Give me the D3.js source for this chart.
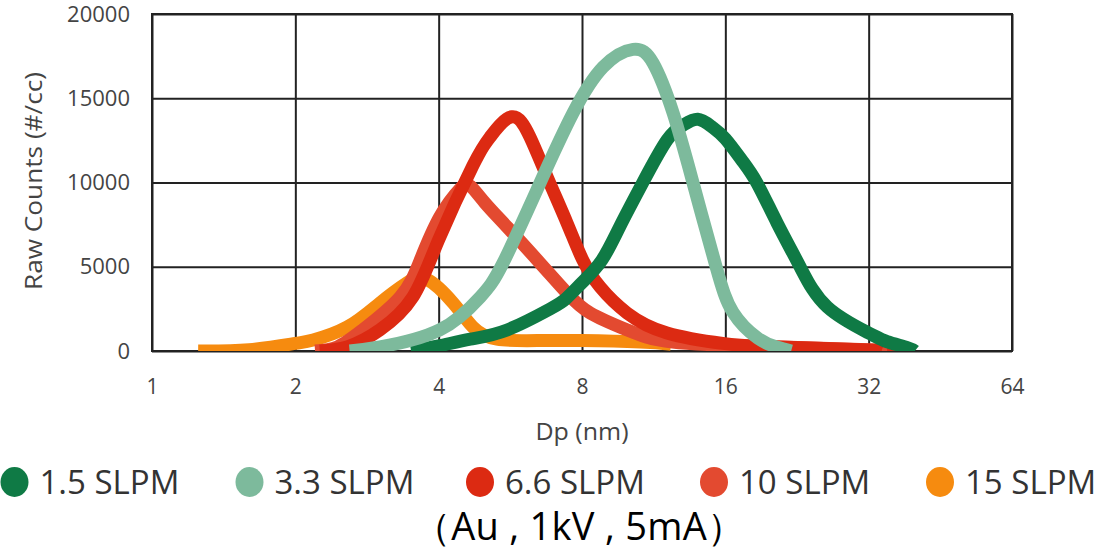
<!DOCTYPE html>
<html lang="en">
<head>
	<meta charset="UTF-8"/>
	<title>Raw Counts vs Dp</title>
	<script src="https://d3js.org/d3.v7.min.js"></script>
	<style>
		body { margin: 0; background: #fff; }
		text { font-family: "Open Sans", sans-serif; }
	</style>
</head>
<body>
	<script>
		var w = 1104;
		var h = 550;

		// series names + colours (legend order)
		var seriesNames = ["1.5 SLPM", "3.3 SLPM", "6.6 SLPM", "10 SLPM", "15 SLPM"];
		var seriesColors = ["#0f7a45", "#7dba9c", "#dc2a12", "#e34a30", "#f68b0f"];

		// Dp (nm) and raw counts
		var dp_1_5 = [3.5, 4.0, 4.66, 5.57, 6.86, 7.4, 8.03, 8.81, 9.61, 10.75, 12.07, 13.04, 14.0, 15.0, 16, 17.35, 18.66, 20.55, 22.98, 26.2, 32, 35, 38.6, 40];
		var cnt_1_5 = [0, 300, 700, 1250, 2500, 3100, 4100, 5400, 7400, 10030, 12520, 13400, 13750, 13300, 12600, 11300, 9950, 7600, 4985, 2610, 1070, 550, 200, 0];

		var dp_3_3 = [2.6, 3.01, 4.02, 4.89, 5.46, 6.53, 7.66, 8.86, 10.24, 11.28, 12.43, 13.69, 15.3, 16.6, 18.7, 20.5, 22];
		var cnt_3_3 = [0, 240, 1250, 3200, 5220, 9970, 14120, 16850, 17900, 17090, 14120, 9970, 5000, 2300, 770, 240, 0];

		var dp_6_6 = [2.25, 2.57, 3.01, 3.53, 4.0, 4.72, 5.13, 5.7, 6.22, 6.76, 7.44, 8.03, 8.73, 9.95, 12.07, 15.8, 20, 32, 35];
		var cnt_6_6 = [0, 240, 1250, 3200, 6600, 11000, 12700, 13900, 12700, 10330, 7600, 5400, 3800, 2250, 1070, 450, 250, 60, 0];

		var dp_10 = [2.2, 2.45, 2.77, 3.32, 3.66, 4.02, 4.43, 4.66, 5.0, 5.57, 6.53, 7.44, 8.33, 9.95, 12.4, 20, 34.4, 36];
		var cnt_10 = [0, 240, 1250, 3200, 5400, 7950, 9600, 9800, 8800, 7360, 5220, 3440, 2250, 1250, 530, 250, 50, 0];

		var dp_15 = [1.25, 1.6, 2.0, 2.18, 2.57, 3.01, 3.43, 3.78, 4.29, 4.72, 5.3, 6.5, 8, 10.6, 12.3];
		var cnt_15 = [0, 80, 450, 650, 1420, 2850, 4040, 4250, 2850, 1420, 700, 620, 620, 530, 400];

		var xTicks = [1, 2, 4, 8, 16, 32, 64];
		var yTicks = [0, 5000, 10000, 15000, 20000];

		var dpList = [dp_1_5, dp_3_3, dp_6_6, dp_10, dp_15];
		var cntList = [cnt_1_5, cnt_3_3, cnt_6_6, cnt_10, cnt_15];

		var series = seriesNames.map(function(name, i){
			return {
				name: name,
				color: seriesColors[i],
				points: dpList[i].map(function(d, j){ return [d, cntList[i][j]]; })
			};
		});

		// plot area edges
		var pLeft = 152, pRight = 1012, pTop = 14, pBottom = 351;

		var xScale = d3.scaleLog()
						.base(2)
						.domain([1, 64])
						.range([pLeft, pRight]);

		var yScale = d3.scaleLinear()
						.domain([0, 20000])
						.range([pBottom, pTop]);

		var svg = d3.select("body")
					.append("svg")
					.attr("width", w)
					.attr("height", h);

		svg.append("defs")
			.append("clipPath")
			.attr("id", "plotclip")
			.append("rect")
			.attr("x", pLeft)
			.attr("y", pTop)
			.attr("width", pRight - pLeft)
			.attr("height", pBottom - pTop);

		//y axis + horizontal grid
		var yAxis = svg.append("g")
			.attr("transform", "translate(" + pLeft + ",0)")
			.call(d3.axisLeft(yScale)
				.tickValues(yTicks)
				.tickSize(-(pRight - pLeft))
				.tickPadding(22)
				.tickFormat(d3.format("d")));
		yAxis.select(".domain").remove();
		yAxis.selectAll("line").attr("stroke", "#222").attr("stroke-width", 2);
		yAxis.selectAll("text")
			.attr("fill", "#444")
			.attr("font-size", 22)
			.attr("font-family", "Open Sans, sans-serif");

		//x axis + vertical grid
		var xAxis = svg.append("g")
			.attr("transform", "translate(0," + pBottom + ")")
			.call(d3.axisBottom(xScale)
				.tickValues(xTicks)
				.tickSize(-(pBottom - pTop))
				.tickPadding(28)
				.tickFormat(d3.format("d")));
		xAxis.select(".domain").remove();
		xAxis.selectAll("line").attr("stroke", "#222").attr("stroke-width", 2);
		xAxis.selectAll("text")
			.attr("fill", "#444")
			.attr("font-size", 21)
			.attr("font-family", "Open Sans, sans-serif");

		// frame
		svg.append("rect")
			.attr("x", pLeft)
			.attr("y", pTop)
			.attr("width", pRight - pLeft)
			.attr("height", pBottom - pTop)
			.attr("fill", "none")
			.attr("stroke", "#222")
			.attr("stroke-width", 2);

		var line = d3.line()
			.x(function(d){ return xScale(d[0]); })
			.y(function(d){ return yScale(d[1]); })
			.curve(d3.curveNatural);

		// draw order: 15 at the bottom, 3.3 on top
		var drawOrder = [4, 3, 2, 0, 1];
		svg.append("g")
			.attr("clip-path", "url(#plotclip)")
			.selectAll("path")
			.data(drawOrder.map(function(i){ return series[i]; }))
			.enter()
			.append("path")
			.attr("d", function(d){ return line(d.points); })
			.attr("fill", "none")
			.attr("stroke", function(d){ return d.color; })
			.attr("stroke-width", 13)
			.attr("stroke-linejoin", "round");

		// axis titles
		svg.append("text")
			.attr("transform", "translate(42,181) rotate(-90)")
			.attr("text-anchor", "middle")
			.attr("fill", "#444")
			.attr("font-size", 24)
			.attr("textLength", 218)
			.attr("lengthAdjust", "spacingAndGlyphs")
			.text("Raw Counts (#/cc)");

		svg.append("text")
			.attr("x", 582)
			.attr("y", 440)
			.attr("text-anchor", "middle")
			.attr("fill", "#444")
			.attr("font-size", 23)
			.attr("textLength", 93)
			.attr("lengthAdjust", "spacingAndGlyphs")
			.text("Dp (nm)");

		// legend
		var legendDotX = [14.5, 249.5, 480, 714, 940];
		var legend = svg.selectAll(".legend")
			.data(series)
			.enter()
			.append("g")
			.attr("class", "legend");

		legend.append("ellipse")
			.attr("cx", function(d, i){ return legendDotX[i]; })
			.attr("cy", 482)
			.attr("rx", 14)
			.attr("ry", 15)
			.attr("fill", function(d){ return d.color; });

		legend.append("text")
			.attr("x", function(d, i){ return legendDotX[i] + 25; })
			.attr("y", 494)
			.attr("fill", "#333")
			.attr("font-size", 33)
			.text(function(d){ return d.name; });

		svg.append("text")
			.attr("x", 579)
			.attr("y", 540)
			.attr("text-anchor", "middle")
			.attr("fill", "#000")
			.attr("font-size", 38)
			.attr("textLength", 332)
			.attr("lengthAdjust", "spacing")
			.attr("font-family", "Noto Sans CJK JP, sans-serif")
			.text("（Au , 1kV , 5mA）");
	</script>
</body>
</html>
